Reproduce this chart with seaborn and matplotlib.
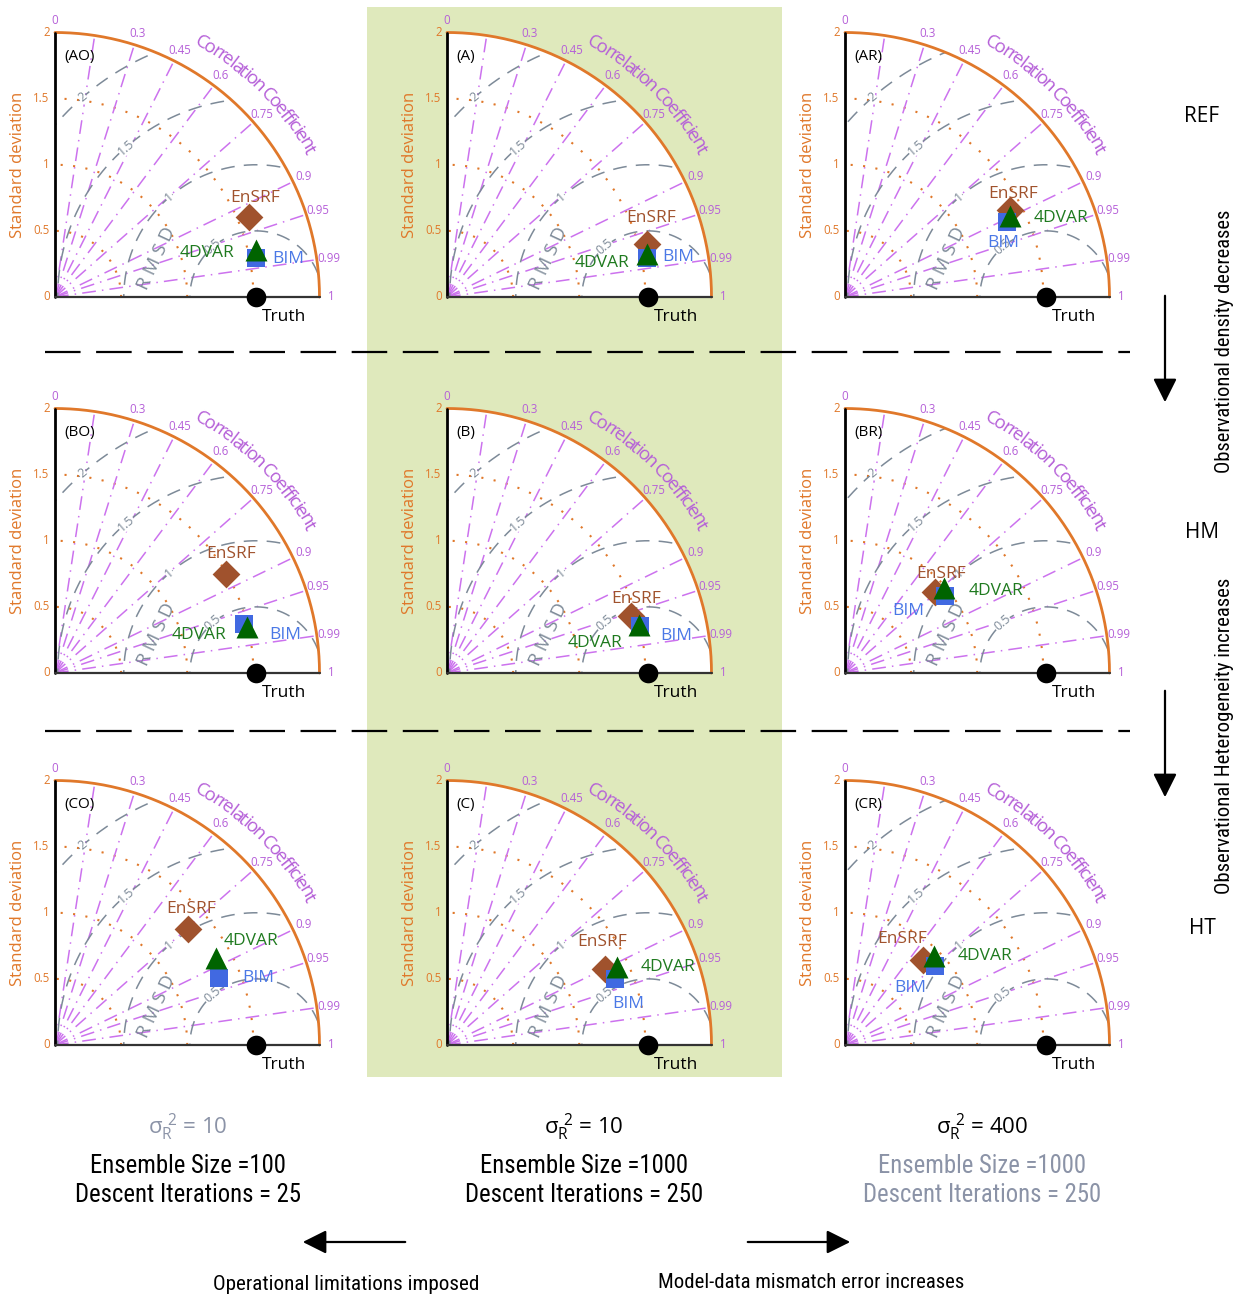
import numpy as np
import pandas as pd
import matplotlib
matplotlib.use("Agg")
import matplotlib.pyplot as plt
import seaborn as sns
from matplotlib.patches import Wedge, Rectangle, FancyArrowPatch
from matplotlib.lines import Line2D
from matplotlib import font_manager
from matplotlib.textpath import TextToPath
from matplotlib.font_manager import FontProperties

sns.set_theme(style="white")
plt.rcParams['font.family'] = ['Open Sans', 'DejaVu Sans']
plt.rcParams['mathtext.fontset'] = 'custom'
plt.rcParams['mathtext.rm'] = 'Open Sans'
plt.rcParams['mathtext.it'] = 'Open Sans'
plt.rcParams['mathtext.bf'] = 'Open Sans'

# ---------------- DATA ----------------
panel_labels = ["(AO)", "(A)", "(AR)", "(BO)", "(B)", "(BR)", "(CO)", "(C)", "(CR)"]
truth_std = 1.52
ensrf_std = [1.583, 1.562, 1.409, 1.492, 1.455, 0.914, 1.337, 1.328, 0.870]
ensrf_corr = [0.925, 0.967, 0.884, 0.865, 0.955, 0.744, 0.753, 0.901, 0.678]
fdvar_std = [1.561, 1.544, 1.386, 1.492, 1.495, 0.986, 1.384, 1.414, 0.948]
fdvar_corr = [0.974, 0.978, 0.898, 0.972, 0.970, 0.761, 0.881, 0.909, 0.707]
bim_std = [1.548, 1.539, 1.351, 1.477, 1.501, 0.959, 1.341, 1.365, 0.907]
bim_corr = [0.982, 0.981, 0.907, 0.968, 0.972, 0.792, 0.925, 0.930, 0.750]

std_ticks = [0, 0.5, 1, 1.5, 2]
std_tick_labels = ["0", "0.5", "1", "1.5", "2"]
corr_ticks = [0, 0.3, 0.45, 0.6, 0.75, 0.9, 0.95, 0.99, 1]
corr_tick_labels = ["0", "0.3", "0.45", "0.6", "0.75", "0.9", "0.95", "0.99", "1"]
corr_lines = [0.15, 0.3, 0.45, 0.6, 0.75, 0.9, 0.95, 0.99]
std_arcs = [0.5, 1.0, 1.5]
rmsd_levels = [0.5, 1.0, 1.5, 2.0]
rmsd_labels = ["0.5", "1", "1.5", "2"]
row_labels = ["REF", "HM", "HT"]
sigma_labels = [r"$\sigma_{R}^{\ 2}$ = 10", r"$\sigma_{R}^{\ 2}$ = 10", r"$\sigma_{R}^{\ 2}$ = 400"]
ensemble_labels = ["Ensemble Size =100", "Ensemble Size =1000", "Ensemble Size =1000"]
descent_labels = ["Descent Iterations = 25", "Descent Iterations = 250", "Descent Iterations = 250"]

# ---------------- LAYOUT / STYLE ----------------
W, H = 1244, 1296
S = 132.25
col_origin = [55, 447, 845]
row_base = [297, 673, 1045]
XL = (-0.35, 2.3)
YL = (-0.25, 2.2)

orange = '#e0782a'
violet = '#cc72ee'
violet_txt = '#b55fd8'
gray = '#7d8a98'
c_ensrf = '#a0522d'
c_4dvar = '#006400'
c_4dvar_txt = '#1f7a1f'
c_bim = '#4169e1'
c_bim_txt = '#4a78e6'
soft_gray = '#8b93a7'
green_bg = '#dfe9bc'

# label positions (x, y in diagram coordinates) per panel
lab_ensrf = [(1.51, 0.75), (1.54, 0.60), (1.27, 0.78), (1.33, 0.90), (1.43, 0.56),
             (0.73, 0.75), (1.03, 1.03), (1.17, 0.78), (0.43, 0.80)]
lab_4dvar = [(1.15, 0.33), (1.17, 0.26), (1.63, 0.60), (1.09, 0.29), (1.12, 0.23),
             (1.14, 0.62), (1.48, 0.79), (1.67, 0.59), (1.06, 0.67)]
lab_bim = [(1.76, 0.29), (1.75, 0.30), (1.20, 0.41), (1.74, 0.29), (1.73, 0.28),
           (0.48, 0.47), (1.54, 0.51), (1.37, 0.31), (0.49, 0.43)]

names = {f.name for f in font_manager.fontManager.ttflist}
cond_family = 'Roboto'
for cand in ['Liberation Sans Narrow', 'Roboto Condensed', 'Open Sans Condensed']:
    if cand in names:
        cond_family = cand
        break
ttp = TextToPath()


def fit_size(s, target_px, family):
    fp = FontProperties(family=family, size=10)
    w, h, d = ttp.get_text_width_height_descent(s, fp, ismath=False)
    return 10 * target_px / (w * 100 / 72)


def to_xy(std, corr):
    std = np.asarray(std, float)
    corr = np.asarray(corr, float)
    return std * corr, std * np.sqrt(1 - corr ** 2)


def curved_text(ax, s, radius, a0, a1, fontsize, color):
    fp = FontProperties(family=['Open Sans'], size=fontsize)
    total = ttp.get_text_width_height_descent(s, fp, ismath=False)[0]
    for i, ch in enumerate(s):
        if ch == ' ':
            continue
        pre = ttp.get_text_width_height_descent(s[:i], fp, ismath=False)[0] if i > 0 else 0
        cw = ttp.get_text_width_height_descent(ch, fp, ismath=False)[0]
        frac = (pre + cw / 2) / total
        ang = a0 + (a1 - a0) * frac
        t = np.deg2rad(ang)
        ax.text(radius * np.cos(t), radius * np.sin(t), ch, rotation=ang - 90,
                rotation_mode='anchor', ha='center', va='center',
                fontsize=fontsize, color=color)


fig = plt.figure(figsize=(W / 100, H / 100), dpi=100)

# green background for middle column
fig.add_artist(Rectangle((367 / W, 1 - 1077 / H), (782 - 367) / W, (1077 - 7) / H,
                         transform=fig.transFigure, facecolor=green_bg, edgecolor='none', zorder=-5))

theta = np.linspace(0, np.pi / 2, 300)
for i in range(9):
    r, c = divmod(i, 3)
    ox, by = col_origin[c], row_base[r]
    left = (ox + XL[0] * S) / W
    bottom = 1 - (by - YL[0] * S) / H
    ax = fig.add_axes([left, bottom, (XL[1] - XL[0]) * S / W, (YL[1] - YL[0]) * S / H])
    ax.patch.set_alpha(0)
    ax.axis('off')

    wedge = Wedge((0, 0), 2, 0, 90, facecolor='white', edgecolor='none', zorder=0)
    ax.add_patch(wedge)

    # std dev arcs
    for rr in std_arcs:
        ax.plot(rr * np.cos(theta), rr * np.sin(theta), color=orange, lw=1.5,
                linestyle=(0, (1, 5)), zorder=2)
    # correlation rays
    for cc in corr_lines:
        a = np.arccos(cc)
        ax.plot([0, 2 * np.cos(a)], [0, 2 * np.sin(a)], color=violet, lw=1.1,
                linestyle=(0, (9, 4, 1, 4)), zorder=2)
    # RMSD circles
    phi = np.linspace(0, np.pi, 600)
    for rr in rmsd_levels:
        ln, = ax.plot(truth_std + rr * np.cos(phi), rr * np.sin(phi), color=gray, lw=1.1,
                      linestyle=(0, (9, 6)), zorder=2)
        ln.set_clip_path(wedge)
    for rr, lab in zip(rmsd_levels, rmsd_labels):
        t = np.deg2rad(49)
        ax.text(truth_std - rr * np.cos(t), rr * np.sin(t), lab, rotation=41, ha='center',
                va='center', fontsize=9, color=gray, zorder=3,
                bbox=dict(facecolor='white', edgecolor='none', pad=0.2))
    ax.text(0.77, 0.29, "R M S D", rotation=65, ha='center', va='center', fontsize=13.5,
            color=gray, zorder=3)

    # outer arc and axes
    ax.plot(2 * np.cos(theta), 2 * np.sin(theta), color=orange, lw=2.0, zorder=4)
    ax.plot([0, 0], [0, 2], color='black', lw=2.0, zorder=4)
    ax.plot([0, 2], [0, 0], color='#333333', lw=1.6, zorder=4)

    for v, lab in zip(std_ticks, std_tick_labels):
        ax.text(-0.04, v, lab, ha='right', va='center', fontsize=8.3, color=orange)
    ax.text(-0.28, 1.0, "Standard deviation", rotation=90, ha='center', va='center',
            fontsize=12, color=orange)
    for v, lab in zip(corr_ticks, corr_tick_labels):
        a = np.arccos(v)
        ax.text(2.09 * np.cos(a), 2.09 * np.sin(a), lab, ha='center', va='center',
                fontsize=8.3, color=violet_txt)
    curved_text(ax, "Correlation Coefficient", 2.22, 61, 29.5, 13.5, violet_txt)

    ax.text(0.07, 1.82, panel_labels[i], ha='left', va='center', fontsize=11, color='black')

    # markers
    ex, ey = to_xy(ensrf_std[i], ensrf_corr[i])
    fx_, fy_ = to_xy(fdvar_std[i], fdvar_corr[i])
    bx, byy = to_xy(bim_std[i], bim_corr[i])
    df = pd.DataFrame({'x': [float(ex), float(bx), float(fx_), truth_std],
                       'y': [float(ey), float(byy), float(fy_), 0.0],
                       'method': ['EnSRF', 'BIM', '4DVAR', 'Truth']})
    spec = [('EnSRF', 'D', 200, c_ensrf, 5), ('BIM', 's', 150, c_bim, 6),
            ('4DVAR', '^', 250, c_4dvar, 7), ('Truth', 'o', 200, 'black', 8)]
    for m, mk, sz, col, zo in spec:
        sns.scatterplot(data=df[df['method'] == m], x='x', y='y', marker=mk, s=sz,
                        color=col, linewidth=0, ax=ax, zorder=zo, legend=False, clip_on=False)

    ax.text(*lab_ensrf[i], "EnSRF", ha='center', va='center', fontsize=12.5, color=c_ensrf, zorder=9)
    ax.text(*lab_4dvar[i], "4DVAR", ha='center', va='center', fontsize=12.5, color=c_4dvar_txt, zorder=9)
    ax.text(*lab_bim[i], "BIM", ha='center', va='center', fontsize=12.5, color=c_bim_txt, zorder=9)
    ax.text(truth_std + 0.21, -0.15, "Truth", ha='center', va='center', fontsize=12.5,
            color='black', zorder=9)

    ax.set_xlim(*XL)
    ax.set_ylim(*YL)
    ax.axis('off')

# dashed separators
for yy in [352, 731]:
    fig.add_artist(Line2D([45 / W, 1130 / W], [1 - yy / H, 1 - yy / H], transform=fig.transFigure,
                          color='black', lw=1.6, linestyle=(0, (16, 7))))

# right side
for lab, yy in zip(row_labels, [116, 532, 929]):
    fig.text(1202 / W, 1 - yy / H, lab, ha='center', va='center', fontsize=15, color='black')
for (y0, y1) in [(293, 405), (688, 800)]:
    fig.add_artist(FancyArrowPatch((1165 / W, 1 - y0 / H), (1165 / W, 1 - y1 / H),
                                   transform=fig.transFigure, arrowstyle='-|>,head_length=0.9,head_width=0.45',
                                   mutation_scale=16, color='black', lw=1.6))
for s, yc, span in [("Observational density decreases", 341, 263),
                    ("Observational Heterogeneity increases", 736, 317)]:
    fig.text(1224 / W, 1 - yc / H, s, rotation=90, ha='center', va='center',
             fontsize=fit_size(s, span, cond_family), family=cond_family, color='black')

# bottom texts
col_centers = [188, 584, 982]
sig_colors = [soft_gray, 'black', 'black']
other_colors = ['black', 'black', soft_gray]
ens_size = fit_size("Ensemble Size =1000", 208, cond_family)
for k in range(3):
    fig.text(col_centers[k] / W, 1 - 1127 / H, sigma_labels[k], ha='center', va='center',
             fontsize=16, color=sig_colors[k])
    fig.text(col_centers[k] / W, 1 - 1166 / H, ensemble_labels[k], ha='center', va='center',
             fontsize=ens_size, family=cond_family, color=other_colors[k])
    fig.text(col_centers[k] / W, 1 - 1195 / H, descent_labels[k], ha='center', va='center',
             fontsize=ens_size, family=cond_family, color=other_colors[k])

for (x0, x1) in [(408, 300), (745, 853)]:
    fig.add_artist(FancyArrowPatch((x0 / W, 1 - 1242 / H), (x1 / W, 1 - 1242 / H),
                                   transform=fig.transFigure, arrowstyle='-|>,head_length=0.9,head_width=0.45',
                                   mutation_scale=16, color='black', lw=1.6))
for s, xc, yc, span in [("Operational limitations imposed", 346, 1285, 266),
                        ("Model-data mismatch error increases", 811, 1283, 306)]:
    fig.text(xc / W, 1 - yc / H, s, ha='center', va='center',
             fontsize=fit_size(s, span, cond_family), family=cond_family, color='black')

fig.savefig("out.png", dpi=100)
